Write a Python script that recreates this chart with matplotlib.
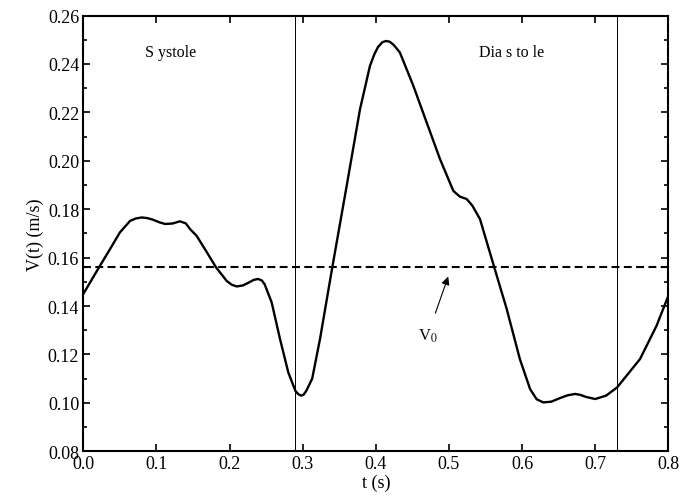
import matplotlib
matplotlib.use("Agg")
import matplotlib.pyplot as plt
from matplotlib.ticker import MultipleLocator, FormatStrFormatter

plt.rcParams["font.family"] = ["Liberation Serif", "DejaVu Serif"]
plt.rcParams["mathtext.fontset"] = "stix"

# velocity waveform
t = [0.000, 0.0215, 0.0365, 0.050, 0.064, 0.072, 0.080, 0.088, 0.095, 0.104,
     0.112, 0.122, 0.132, 0.140, 0.146, 0.155, 0.169, 0.1815, 0.196, 0.203,
     0.2098, 0.218, 0.225, 0.233, 0.239, 0.244, 0.248, 0.2576, 0.269, 0.2803,
     0.290, 0.294, 0.2977, 0.301, 0.305, 0.313, 0.3237, 0.3405, 0.3602, 0.3784,
     0.392, 0.398, 0.403, 0.409, 0.414, 0.419, 0.424, 0.428, 0.433, 0.4513,
     0.4696, 0.4878, 0.506, 0.515, 0.5243, 0.532, 0.5425, 0.562, 0.579, 0.597,
     0.611, 0.620, 0.629, 0.640, 0.652, 0.662, 0.6724, 0.680, 0.687, 0.700,
     0.715, 0.730, 0.7613, 0.784, 0.800]
v = [0.1450, 0.1560, 0.1635, 0.1704, 0.1752, 0.1762, 0.1766, 0.1763, 0.1757, 0.1746,
     0.1739, 0.1741, 0.1750, 0.1742, 0.1718, 0.1690, 0.1622, 0.1560, 0.1504, 0.1488,
     0.1481, 0.1485, 0.1495, 0.1508, 0.1512, 0.1506, 0.1490, 0.1415, 0.1264, 0.1126,
     0.1050, 0.1036, 0.1030, 0.1033, 0.1050, 0.1100, 0.1264, 0.1560, 0.1897, 0.2213,
     0.2392, 0.2440, 0.2470, 0.2490, 0.2495, 0.2492, 0.2480, 0.2466, 0.2447, 0.2310,
     0.2158, 0.2007, 0.1876, 0.1852, 0.1842, 0.1815, 0.1759, 0.1560, 0.1388, 0.1181,
     0.1057, 0.1015, 0.1002, 0.1005, 0.1020, 0.1031, 0.1037, 0.1033, 0.1025, 0.1016,
     0.1030, 0.1064, 0.1181, 0.1319, 0.1442]

v0 = 0.156
phase_bounds = [0.29, 0.73]

fig = plt.figure(figsize=(6.8, 5.02), dpi=100)
ax = fig.add_axes([0.1225, 0.099, 0.8603, 0.868])

ax.plot(t, v, color="black", linewidth=1.7, solid_joinstyle="round")
ax.axhline(v0, color="black", linewidth=1.5, dashes=(3.8, 2.1))
for xb in phase_bounds:
    ax.axvline(xb, color="black", linewidth=0.7)

ax.text(0.12, 0.2448, "S ystole", fontsize=11.5, ha="center", va="center")
ax.text(0.5856, 0.2449, "Dia s to le", fontsize=11.5, ha="center", va="center")
ax.annotate(r"V$_0$", xy=(0.499, 0.1522), xytext=(0.471, 0.128),
            fontsize=12, ha="center", va="center",
            arrowprops=dict(arrowstyle="-|>", color="black", lw=0.8,
                            mutation_scale=12, shrinkA=8, shrinkB=0))

ax.set_xlim(0, 0.8)
ax.set_ylim(0.08, 0.26)
ax.xaxis.set_major_locator(MultipleLocator(0.1))
ax.yaxis.set_major_locator(MultipleLocator(0.02))
ax.yaxis.set_minor_locator(MultipleLocator(0.01))
ax.xaxis.set_major_formatter(FormatStrFormatter("%.1f"))
ax.yaxis.set_major_formatter(FormatStrFormatter("%.2f"))
ax.tick_params(which="both", direction="in", top=True, right=True,
               labelsize=13, width=1.2)
ax.tick_params(which="major", length=5)
ax.tick_params(which="minor", length=3)
ax.tick_params(axis="x", pad=3)
ax.tick_params(axis="y", pad=3)
for s in ax.spines.values():
    s.set_linewidth(1.5)

ax.set_xlabel("t (s)", fontsize=13, labelpad=1)
ax.set_ylabel("V(t) (m/s)", fontsize=13, labelpad=3)

fig.savefig("out.png", dpi=100)
